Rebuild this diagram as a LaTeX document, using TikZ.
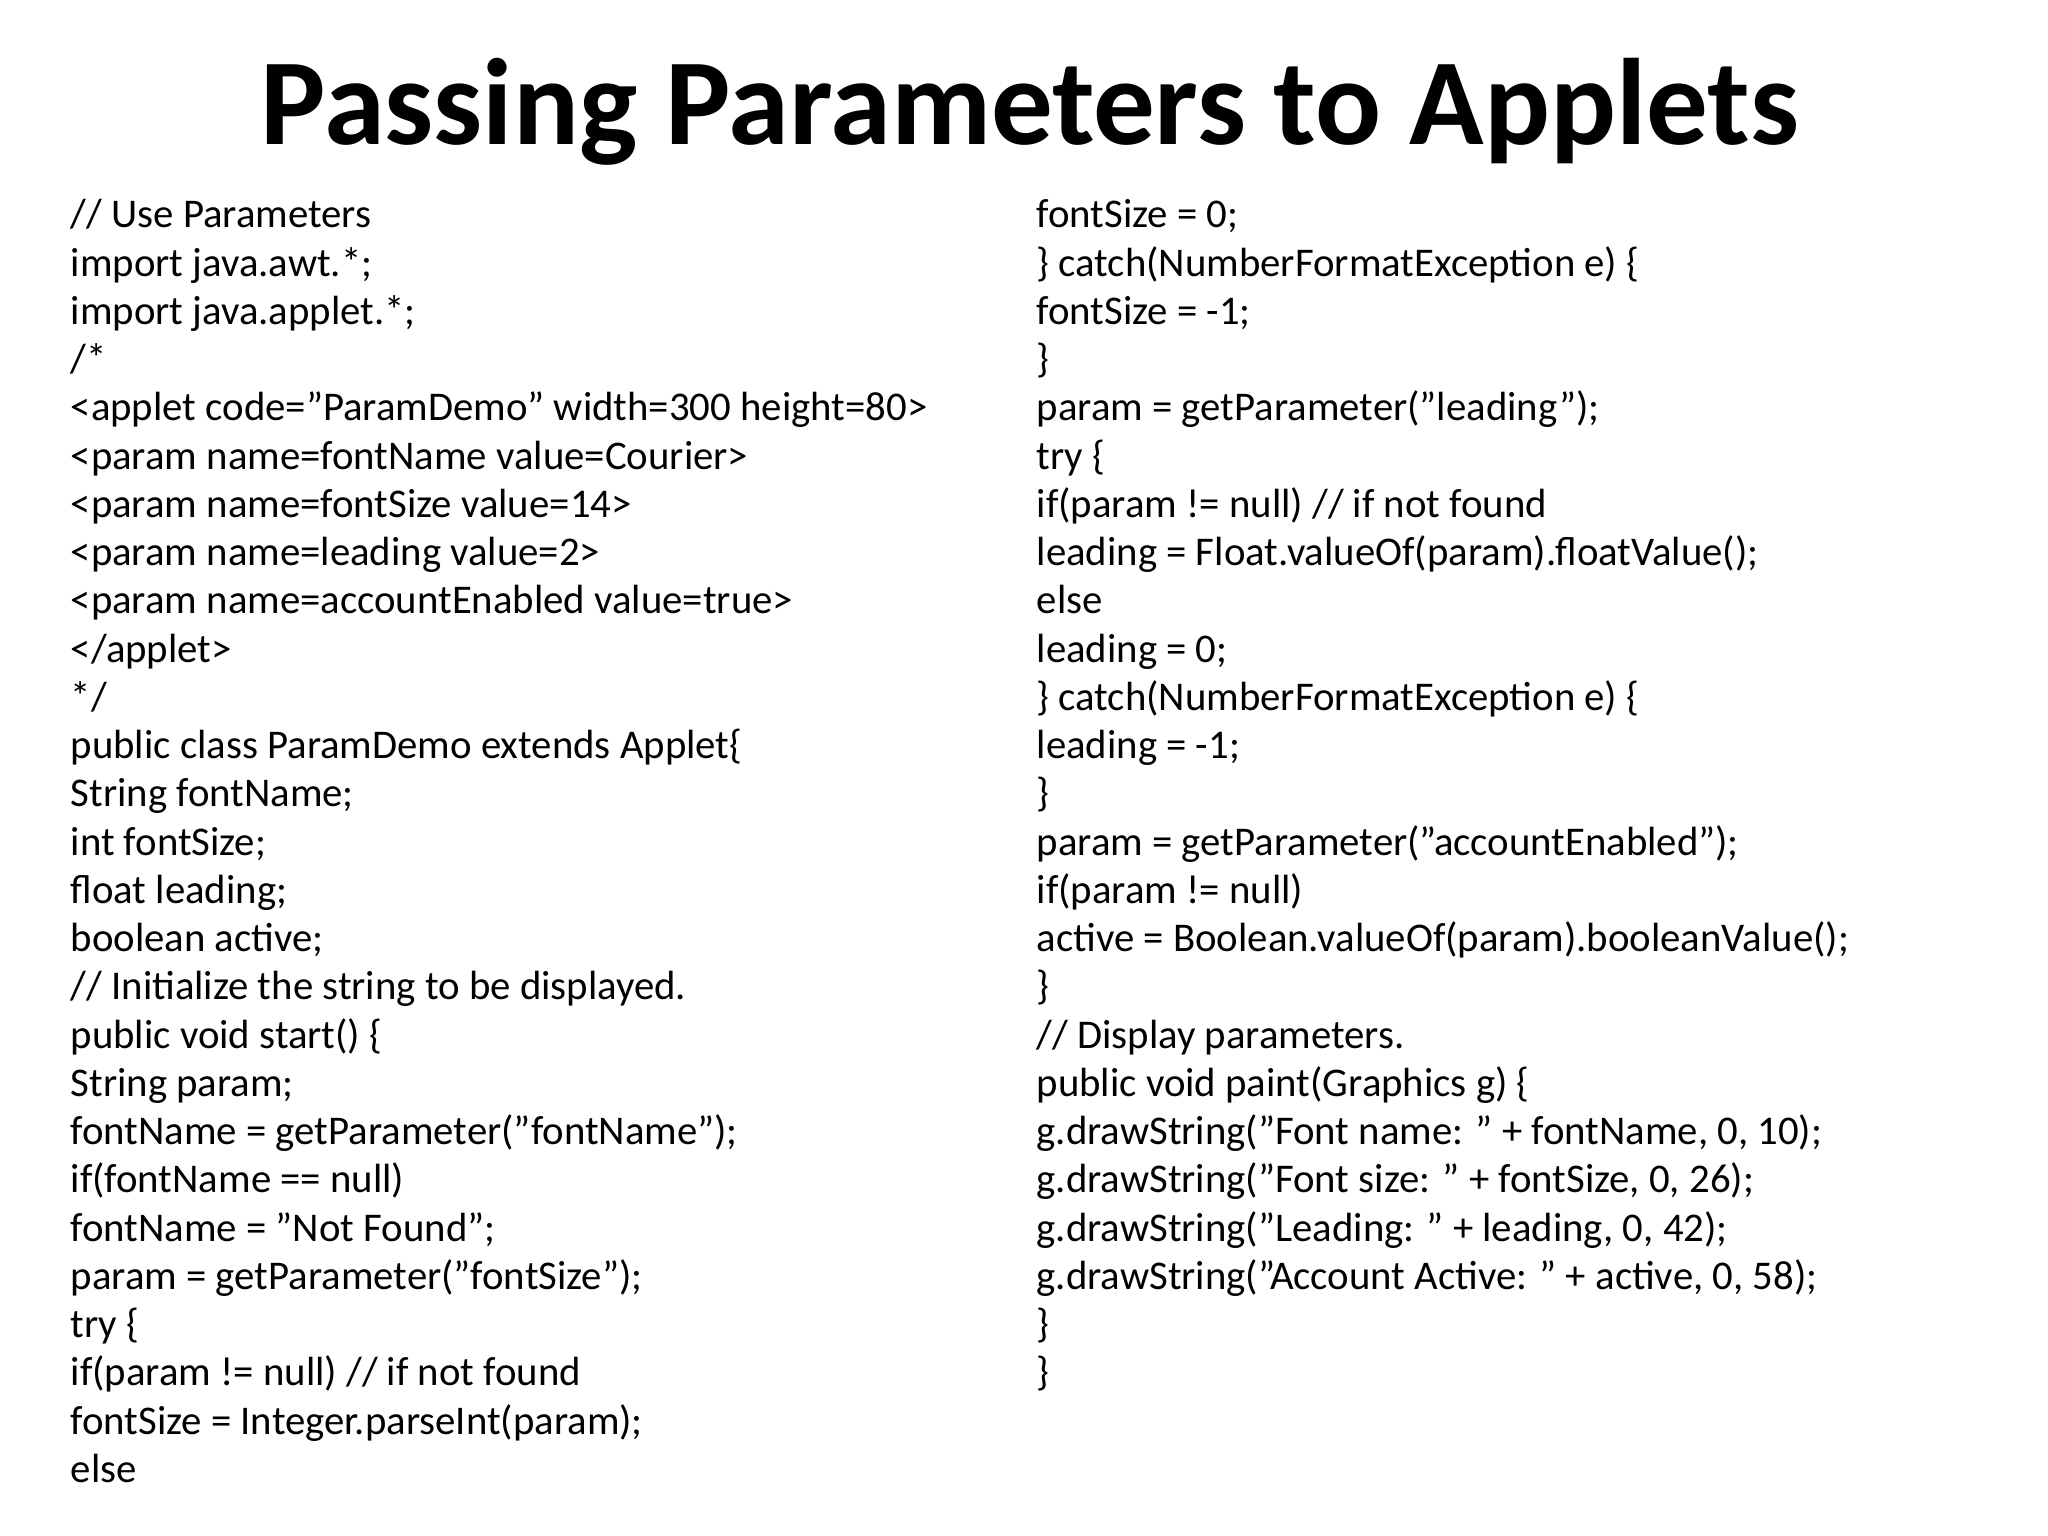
\documentclass[tikz,border=0pt]{standalone}
\usepackage{fontspec}
\setmainfont{Carlito}
\begin{document}
\begin{tikzpicture}[x=1cm,y=-1cm,
  ln/.style={anchor=base west,inner sep=0pt,font=\fontsize{11.6pt}{14pt}\selectfont},
  ttl/.style={anchor=base,inner sep=0pt,font=\bfseries\fontsize{35pt}{40pt}\selectfont}]
\useasboundingbox[fill=white] (0,0) rectangle (20.48,15.36);
\node[ttl] (title) at (10.3,1.45) {Passing Parameters to Applets};
\def\L#1#2#3#4{\node[ln] (#1) at (#2,{2.28+0.4825*#3}) {#4};}
\L{a0}{0.7}{0}{// Use Parameters}
\L{a1}{0.7}{1}{import java.awt.*;}
\L{a2}{0.7}{2}{import java.applet.*;}
\L{a3}{0.7}{3}{/*}
\L{a4}{0.7}{4}{<applet code="ParamDemo" width=300 height=80>}
\L{a5}{0.7}{5}{<param name=fontName value=Courier>}
\L{a6}{0.7}{6}{<param name=fontSize value=14>}
\L{a7}{0.7}{7}{<param name=leading value=2>}
\L{a8}{0.7}{8}{<param name=accountEnabled value=true>}
\L{a9}{0.7}{9}{</applet>}
\L{a10}{0.7}{10}{*/}
\L{a11}{0.7}{11}{public class ParamDemo extends Applet\{}
\L{a12}{0.7}{12}{String fontName;}
\L{a13}{0.7}{13}{int fontSize;}
\L{a14}{0.7}{14}{float leading;}
\L{a15}{0.7}{15}{boolean active;}
\L{a16}{0.7}{16}{// Initialize the string to be displayed.}
\L{a17}{0.7}{17}{public void start() \{}
\L{a18}{0.7}{18}{String param;}
\L{a19}{0.7}{19}{fontName = getParameter("fontName");}
\L{a20}{0.7}{20}{if(fontName == null)}
\L{a21}{0.7}{21}{fontName = "Not Found";}
\L{a22}{0.7}{22}{param = getParameter("fontSize");}
\L{a23}{0.7}{23}{try \{}
\L{a24}{0.7}{24}{if(param != null) // if not found}
\L{a25}{0.7}{25}{fontSize = Integer.parseInt(param);}
\L{a26}{0.7}{26}{else}
\L{b0}{10.36}{0}{fontSize = 0;}
\L{b1}{10.36}{1}{\} catch(NumberFormatException e) \{}
\L{b2}{10.36}{2}{fontSize = -1;}
\L{b3}{10.36}{3}{\}}
\L{b4}{10.36}{4}{param = getParameter("leading");}
\L{b5}{10.36}{5}{try \{}
\L{b6}{10.36}{6}{if(param != null) // if not found}
\L{b7}{10.36}{7}{leading = Float.valueOf(param).floatValue();}
\L{b8}{10.36}{8}{else}
\L{b9}{10.36}{9}{leading = 0;}
\L{b10}{10.36}{10}{\} catch(NumberFormatException e) \{}
\L{b11}{10.36}{11}{leading = -1;}
\L{b12}{10.36}{12}{\}}
\L{b13}{10.36}{13}{param = getParameter("accountEnabled");}
\L{b14}{10.36}{14}{if(param != null)}
\L{b15}{10.36}{15}{active = Boolean.valueOf(param).booleanValue();}
\L{b16}{10.36}{16}{\}}
\L{b17}{10.36}{17}{// Display parameters.}
\L{b18}{10.36}{18}{public void paint(Graphics g) \{}
\L{b19}{10.36}{19}{g.drawString("Font name: " + fontName, 0, 10);}
\L{b20}{10.36}{20}{g.drawString("Font size: " + fontSize, 0, 26);}
\L{b21}{10.36}{21}{g.drawString("Leading: " + leading, 0, 42);}
\L{b22}{10.36}{22}{g.drawString("Account Active: " + active, 0, 58);}
\L{b23}{10.36}{23}{\}}
\L{b24}{10.36}{24}{\}}
\end{tikzpicture}
\end{document}
